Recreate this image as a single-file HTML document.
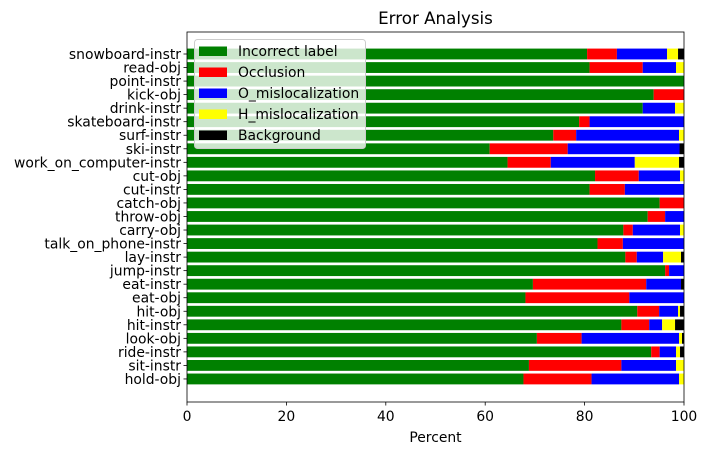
<!DOCTYPE html>
<html><head><meta charset="utf-8"><style>
body{margin:0;background:#fff;}
svg{display:block;font-family:"DejaVu Sans","Liberation Sans",sans-serif;}
</style></head><body>
<svg id="chart" width="705" height="455"></svg>
<script>
const categories=["snowboard-instr","read-obj","point-instr","kick-obj","drink-instr","skateboard-instr","surf-instr","ski-instr","work_on_computer-instr","cut-obj","cut-instr","catch-obj","throw-obj","carry-obj","talk_on_phone-instr","lay-instr","jump-instr","eat-instr","eat-obj","hit-obj","hit-instr","look-obj","ride-instr","sit-instr","hold-obj"];
const incorrectLabel=[80.5,81.0,100,93.9,91.7,78.9,73.7,60.9,64.5,82.1,81.0,95.1,92.7,87.8,82.6,88.2,96.2,69.6,68.1,90.6,87.4,70.4,93.4,68.8,67.7];
const occlusion=[6.0,10.7,0,6.1,0,2.1,4.6,15.7,8.7,8.8,7.1,4.9,3.5,1.9,5.1,2.3,0.8,22.8,20.9,4.4,5.6,9.0,1.7,18.6,13.7];
const oMislocalization=[10.1,6.7,0,0,6.5,19.0,20.7,22.5,16.9,8.3,11.9,0,3.8,9.5,12.3,5.3,3.0,7.0,11.0,3.8,2.6,19.6,3.3,11.0,17.6];
const hMislocalization=[2.2,1.6,0,0,1.8,0,1.0,0,8.9,0.8,0,0,0,0.8,0,3.6,0,0,0,0.4,2.6,0.6,0.8,1.6,1.0];
const background=[1.2,0,0,0,0,0,0,0.9,1.0,0,0,0,0,0,0,0.6,0,0.6,0,0.8,1.8,0.4,0.8,0,0];
const seriesNames=["Incorrect label","Occlusion","O_mislocalization","H_mislocalization","Background"];
const xTicks=[0,20,40,60,80,100];

const NS="http://www.w3.org/2000/svg";
const svg=document.getElementById("chart");
const L=187,R=684,T=32,B=402;
const n=categories.length;
const x=v=>L+(v/100)*(R-L);
const step=13.54;
const yc=i=>54+i*step;
const barH=0.8*step;
function mk(tag,attrs,parent){const e=document.createElementNS(NS,tag);for(const k in attrs)e.setAttribute(k,attrs[k]);(parent||svg).appendChild(e);return e;}
const series=[incorrectLabel,occlusion,oMislocalization,hMislocalization,background];
const colors=["#008000","#ff0000","#0000ff","#ffff00","#000000"];
const keys=["incorrect","occlusion","o-mislocalization","h-mislocalization","background"];
const t=mk("text",{x:(L+R)/2,y:24,"text-anchor":"middle","font-size":"16.7",fill:"#000"});
t.textContent="Error Analysis";


for(let i=0;i<n;i++){
  let acc=0;
  for(let s=0;s<series.length;s++){
    const v=series[s][i]||0;
    if(v>0){
      const r=mk("rect",{x:x(acc),y:yc(i)-barH/2,width:x(acc+v)-x(acc),height:barH,fill:colors[s]});
      
      
    }
    acc+=v;
  }
  mk("line",{x1:L-3.5,x2:L,y1:yc(i),y2:yc(i),stroke:"#000","stroke-width":0.8});
  const lb=mk("text",{x:L-6,y:yc(i)+5,"text-anchor":"end","font-size":"13.9",fill:"#000"});
  lb.textContent=categories[i];
  
  
}
const frame=mk("rect",{x:L,y:T,width:R-L,height:B-T,fill:"none",stroke:"#000","stroke-width":0.8});


xTicks.forEach(v=>{
  mk("line",{x1:x(v),x2:x(v),y1:B,y2:B+3.5,stroke:"#000","stroke-width":0.8});
  const tl=mk("text",{x:x(v),y:B+19,"text-anchor":"middle","font-size":"13.9",fill:"#000"});
  tl.textContent=v;
  
  
});
const xt=mk("text",{x:(L+R)/2,y:442,"text-anchor":"middle","font-size":"13.9",fill:"#000"});
xt.textContent="Percent";


const lg=mk("g",{});


mk("rect",{x:194.5,y:39.5,width:171,height:109,rx:3,fill:"#fff","fill-opacity":0.8,stroke:"#ccc","stroke-width":1},lg);
seriesNames.forEach((nm,s)=>{
  const yy=51+s*21;
  const p=mk("rect",{x:199,y:yy-4.5,width:28,height:9.5,fill:colors[s]},lg);
  
  
  const tx=mk("text",{x:238,y:yy+5,"font-size":"13.9",fill:"#000"},lg);
  tx.textContent=nm;
  
  
});
</script>
</body></html>
